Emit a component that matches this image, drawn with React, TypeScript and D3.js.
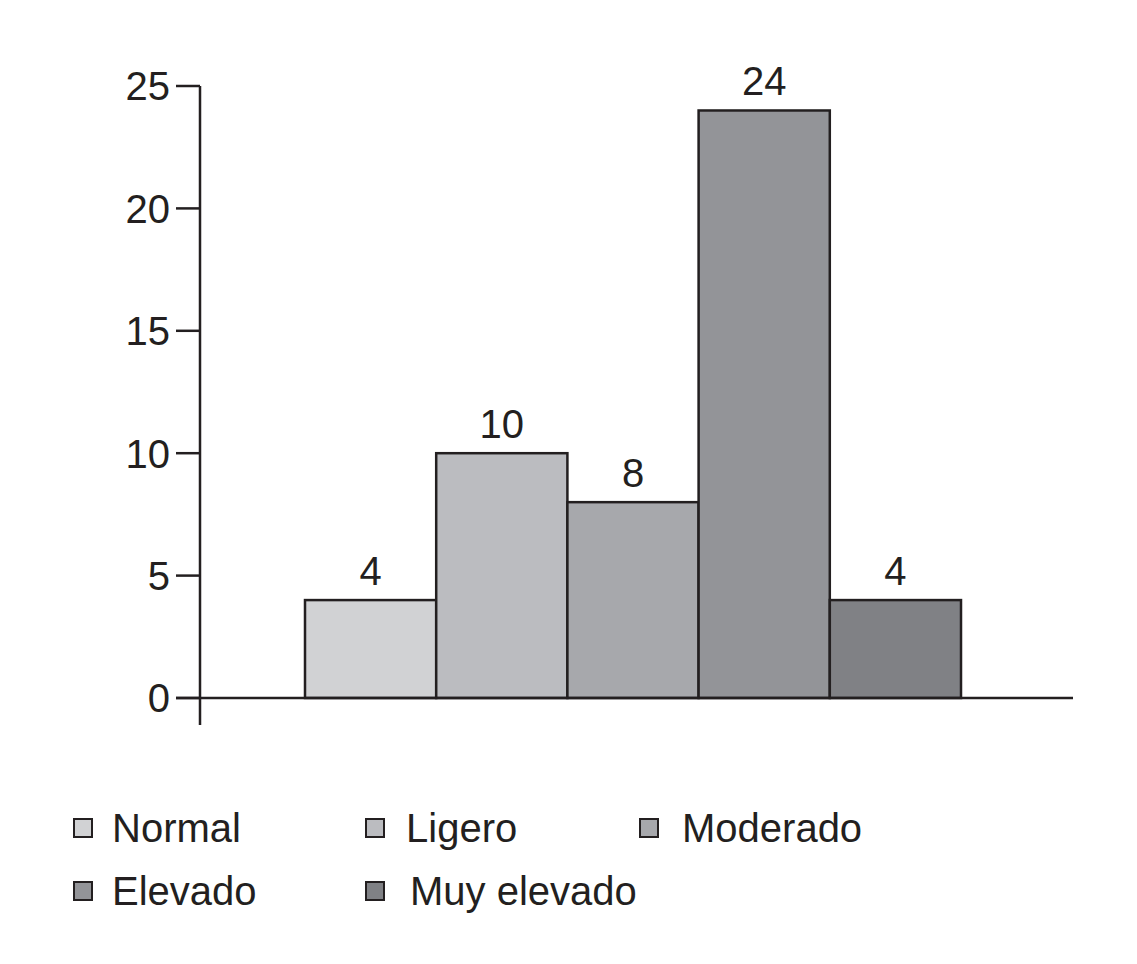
import React, { useEffect, useRef } from "react";
import * as d3 from "d3";

const categories = ["Normal", "Ligero", "Moderado", "Elevado", "Muy elevado"];
const values = [4, 10, 8, 24, 4];
const colors = ["#d1d2d4", "#bbbcc0", "#a7a8ac", "#939498", "#808185"];
const yTicks = [0, 5, 10, 15, 20, 25];

const W = 1137;
const H = 964;
const FONT = "'Liberation Sans', Arial, Helvetica, sans-serif";
const FS = 40;

export default function App() {
  const ref = useRef<SVGSVGElement>(null);

  useEffect(() => {
    const svg = d3.select(ref.current);
    svg.selectAll("*").remove();

    const y = d3.scaleLinear().domain([0, 25]).range([698, 86]);
    const x = d3.scaleBand<string>().domain(categories).range([305, 961]).padding(0);
    const axisX = 200;
    const ink = "#231f20";

    // bars
    svg
      .append("g")
      .selectAll("rect")
      .data(categories)
      .join("rect")
      .attr("x", (d) => x(d)!)
      .attr("y", (d, i) => y(values[i]))
      .attr("width", x.bandwidth())
      .attr("height", (d, i) => y(0) - y(values[i]))
      .attr("fill", (d, i) => colors[i])
      .attr("stroke", ink)
      .attr("stroke-width", 2.5);

    // value labels
    svg
      .append("g")
      .selectAll("text")
      .data(categories)
      .join("text")
      .attr("x", (d) => x(d)! + x.bandwidth() / 2)
      .attr("y", (d, i) => y(values[i]) - 15)
      .attr("text-anchor", "middle")
      .attr("font-family", FONT)
      .attr("font-size", FS)
      .attr("fill", ink)
      .text((d, i) => String(values[i]));

    // y axis
    const ga = svg.append("g");
    ga.append("line")
      .attr("x1", axisX)
      .attr("x2", axisX)
      .attr("y1", y(25))
      .attr("y2", 725)
      .attr("stroke", ink)
      .attr("stroke-width", 2.5);
    ga.selectAll("line.tick")
      .data(yTicks)
      .join("line")
      .attr("class", "tick")
      .attr("x1", axisX - 24)
      .attr("x2", axisX)
      .attr("y1", (d) => y(d))
      .attr("y2", (d) => y(d))
      .attr("stroke", ink)
      .attr("stroke-width", 2.5);
    ga.selectAll("text")
      .data(yTicks)
      .join("text")
      .attr("x", axisX - 30)
      .attr("y", (d) => y(d))
      .attr("dy", "0.36em")
      .attr("text-anchor", "end")
      .attr("font-family", FONT)
      .attr("font-size", FS)
      .attr("fill", ink)
      .text((d) => String(d));

    // x baseline
    svg
      .append("line")
      .attr("x1", axisX - 24)
      .attr("x2", 1073)
      .attr("y1", y(0))
      .attr("y2", y(0))
      .attr("stroke", ink)
      .attr("stroke-width", 2.5);

    // legend
    const legendPos = [
      { sx: 74, tx: 112, cy: 828 },
      { sx: 366, tx: 406, cy: 828 },
      { sx: 640, tx: 682, cy: 828 },
      { sx: 74, tx: 112, cy: 891 },
      { sx: 366, tx: 410, cy: 891 },
    ];
    const lg = svg.append("g");
    categories.forEach((c, i) => {
      const p = legendPos[i];
      lg.append("rect")
        .attr("x", p.sx)
        .attr("y", p.cy - 9)
        .attr("width", 18)
        .attr("height", 18)
        .attr("fill", colors[i])
        .attr("stroke", ink)
        .attr("stroke-width", 2);
      lg.append("text")
        .attr("x", p.tx)
        .attr("y", p.cy)
        .attr("dy", "0.36em")
        .attr("font-family", FONT)
        .attr("font-size", FS)
        .attr("fill", ink)
        .text(c);
    });
  }, []);

  return (
    <svg
      ref={ref}
      width={W}
      height={H}
      style={{ position: "absolute", left: 0, top: 0, background: "#fff" }}
    />
  );
}
